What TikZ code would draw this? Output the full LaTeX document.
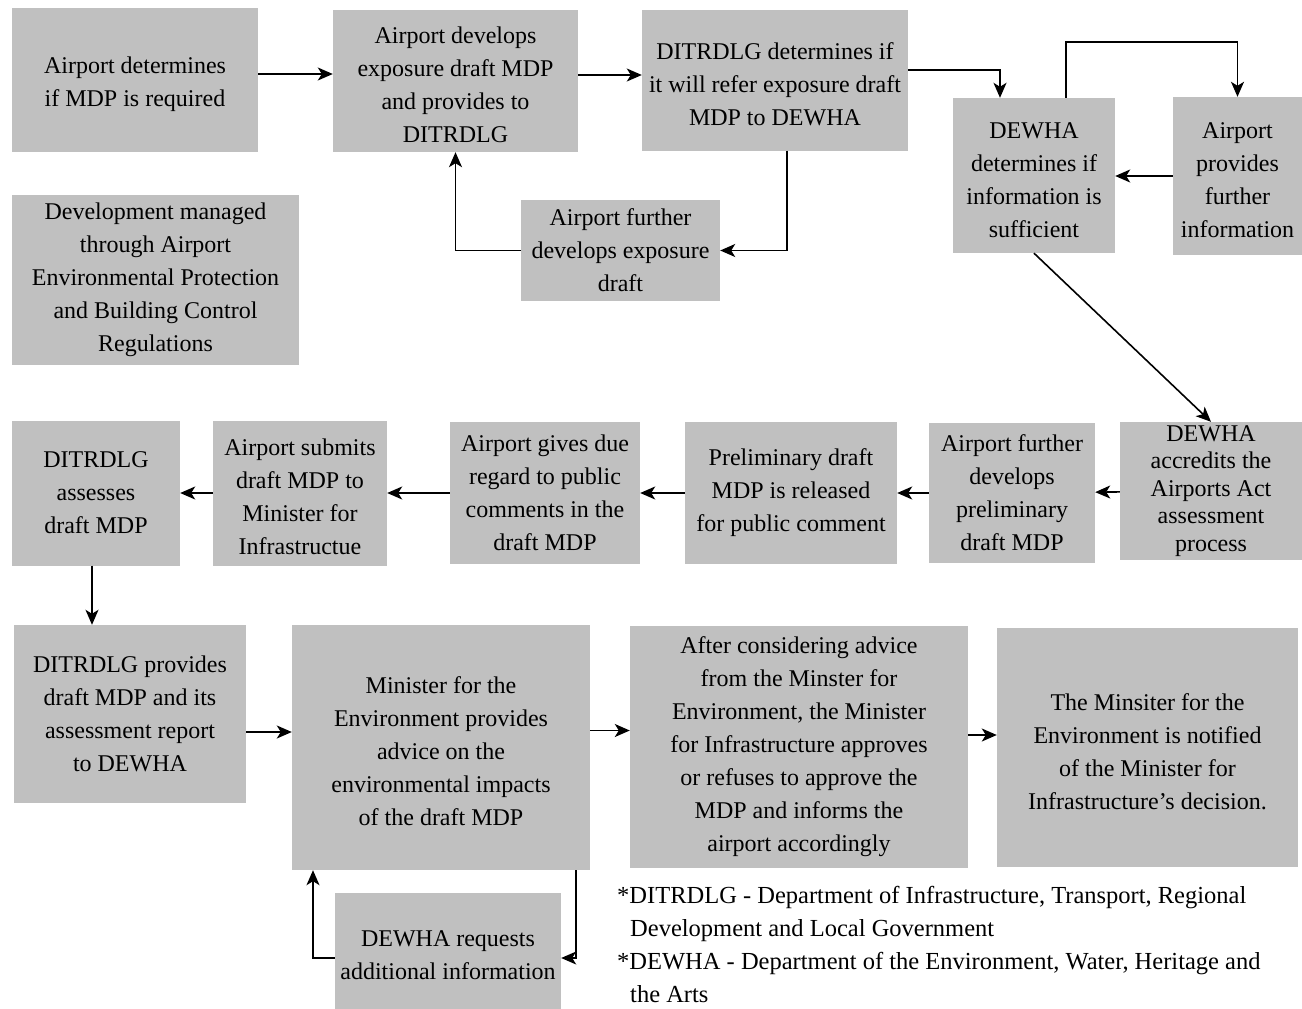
\documentclass[tikz,border=0pt]{standalone}
\usepackage{fontspec}
\setmainfont{Liberation Serif}
\usetikzlibrary{arrows.meta}
\definecolor{BoxGray}{HTML}{C0C0C0}
\newcommand{\topgap}{\rule{0pt}{25pt}}
\tikzset{
  >={Stealth[length=15pt,width=13pt,inset=4pt]},
  box/.style={rectangle, fill=BoxGray, align=center, inner sep=2pt,
    font=\fontsize{24pt}{33pt}\selectfont},
  tightbox/.style={box, font=\fontsize{24pt}{27.5pt}\selectfont},
  note/.style={align=left, anchor=north west, inner sep=0pt,
    font=\fontsize{24.5pt}{33pt}\selectfont},
  flow/.style={draw, ->, line width=1.6pt}
}
\begin{document}
\begin{tikzpicture}[x=1pt, y=-1pt]
\useasboundingbox (0,0) rectangle (1302,1009);

\node[box, minimum width=246pt, minimum height=144pt] (required) at (135,80)
  {\topgap Airport determines\\if MDP is required};
\node[box, minimum width=245pt, minimum height=142pt] (exposure) at (455.5,81)
  {\topgap Airport develops\\exposure draft MDP\\and provides to\\DITRDLG};
\node[box, minimum width=266pt, minimum height=141pt] (refer) at (775,80)
  {\topgap DITRDLG determines if\\it will refer exposure draft\\MDP to DEWHA};
\node[box, minimum width=162pt, minimum height=155pt] (sufficient) at (1034,175.5)
  {\topgap DEWHA\\determines if\\information is\\sufficient};
\node[box, minimum width=129pt, minimum height=158pt] (moreinfo) at (1237.5,176)
  {\topgap Airport\\provides\\further\\information};
\node[box, minimum width=199pt, minimum height=101pt] (redevelop) at (620.5,250.5)
  {Airport further\\develops exposure\\draft};
\node[box, minimum width=287pt, minimum height=170pt] (managed) at (155.5,280)
  {Development managed\\through Airport\\Environmental Protection\\and Building Control\\Regulations};

\node[box, minimum width=168pt, minimum height=145pt] (assess) at (96,493)
  {DITRDLG\\assesses\\draft MDP};
\node[box, minimum width=174pt, minimum height=145pt] (submit) at (300,493)
  {\topgap Airport submits\\draft MDP to\\Minister for\\Infrastructue};
\node[box, minimum width=190pt, minimum height=142pt] (regard) at (545,493)
  {Airport gives due\\regard to public\\comments in the\\draft MDP};
\node[box, minimum width=212pt, minimum height=142pt] (release) at (791,493)
  {Preliminary draft\\MDP is released\\for public comment};
\node[box, minimum width=166pt, minimum height=140pt] (prelim) at (1012,493)
  {Airport further\\develops\\preliminary\\draft MDP};
\node[tightbox, minimum width=182pt, minimum height=138pt] (accredit) at (1211,491)
  {DEWHA\\accredits the\\Airports Act\\assessment\\process};

\node[box, minimum width=232pt, minimum height=178pt] (report) at (130,714)
  {DITRDLG provides\\draft MDP and its\\assessment report\\to DEWHA};
\node[box, minimum width=298pt, minimum height=245pt] (advice) at (441,747.5)
  {\topgap Minister for the\\Environment provides\\advice on the\\environmental impacts\\of the draft MDP};
\node[box, minimum width=338pt, minimum height=242pt] (approve) at (799,747)
  {After considering advice\\from the Minster for\\Environment, the Minister\\for Infrastructure approves\\or refuses to approve the\\MDP and informs the\\airport accordingly};
\node[box, minimum width=301pt, minimum height=239pt] (notify) at (1147.5,747.5)
  {\topgap The Minsiter for the\\Environment is notified\\of the Minister for\\Infrastructure's decision.};
\node[box, minimum width=226pt, minimum height=116pt] (request) at (448,951)
  {\topgap DEWHA requests\\additional information};

\node[note] (abbrev) at (617,886)
  {*DITRDLG - Department of Infrastructure, Transport, Regional\\
   \hspace*{13pt}Development and Local Government\\
   *DEWHA - Department of the Environment, Water, Heritage and\\
   \hspace*{13pt}the Arts};

\draw[flow] ([yshift=6pt]required.east) -- ([yshift=6pt]required.east -| exposure.west);
\draw[flow] ([yshift=6pt]exposure.east) -- ([yshift=6pt]exposure.east -| refer.west);
\draw[flow] ([yshift=10pt]refer.east) -| ([xshift=-34pt]sufficient.north);
\draw[flow] ([xshift=32pt]sufficient.north) -- ++(0,-56) -| (moreinfo.north);
\draw[flow] (moreinfo.west) -- (moreinfo.west -| sufficient.east);
\draw[flow] ([xshift=12pt]refer.south) |- (redevelop.east);
\draw[flow] (redevelop.west) -| (exposure.south);
\draw[flow] (sufficient.south) -- (accredit.north);
\draw[flow] (accredit) -- (prelim);
\draw[flow] (prelim) -- (release);
\draw[flow] (release) -- (regard);
\draw[flow] (regard) -- (submit);
\draw[flow] (submit) -- (assess);
\draw[flow] ([xshift=-4pt]assess.south) -- ([xshift=-4pt]assess.south |- report.north);
\draw[flow] ([yshift=-18pt]report.east) -- ([yshift=-18pt]report.east -| advice.west);
\draw[flow] ([yshift=17pt]advice.east) -- ([yshift=17pt]advice.east -| approve.west);
\draw[flow] ([yshift=12pt]approve.east) -- ([yshift=12pt]approve.east -| notify.west);
\draw[flow] ([xshift=135pt]advice.south) |- ([yshift=-7pt]request.east);
\draw[flow] ([yshift=-7pt]request.west) -| ([xshift=-128pt]advice.south);

\end{tikzpicture}
\end{document}
